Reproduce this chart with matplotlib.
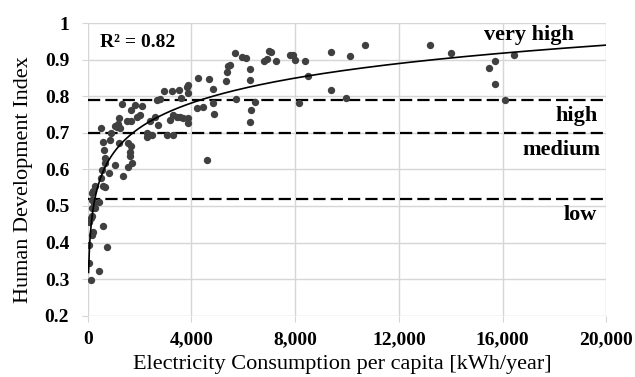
import numpy as np
import matplotlib
matplotlib.use("Agg")
import matplotlib.pyplot as plt

# electricity consumption per capita [kWh/year] and HDI
elec = [115, 447, 50, 62, 755, 154, 216, 601, 50, 127, 185, 281, 154, 243, 447,
        154, 154, 193, 281, 601, 667, 501, 540, 832, 667, 667, 628, 1052, 1349, 1565,
        1696, 1630, 1630, 1669, 1565, 1218, 859, 886, 501, 1052, 1141, 1218, 1245, 1310, 1503,
        1669, 1669, 1823, 1912, 2016, 2081, 2274, 2297, 2401, 2467, 2594, 2659, 2721, 2786, 2941,
        3045, 3172, 3237, 3299, 3299, 3430, 3530, 3557, 3584, 3684, 3815, 3877, 3877, 3877, 3877,
        4239, 4201, 4455, 4586, 4675, 4841, 4841, 4868, 5319, 5357, 5396, 5484, 5716, 5677, 5935,
        6101, 6255, 6255, 6282, 6255, 6448, 6795, 6899, 6999, 7053, 7257, 7797, 7924, 7989, 8155,
        8375, 8479, 9365, 9365, 9955, 10109, 10687, 13192, 13990, 15697, 15478, 15709, 16071, 16418,
        601, 1160]
hdi = [0.298, 0.321, 0.345, 0.392, 0.387, 0.421, 0.430, 0.444, 0.455, 0.467, 0.473, 0.494, 0.494, 0.508, 0.512,
       0.517, 0.535, 0.540, 0.555, 0.555, 0.551, 0.576, 0.599, 0.590, 0.618, 0.631, 0.653, 0.613, 0.583, 0.608,
       0.619, 0.636, 0.649, 0.663, 0.672, 0.672, 0.681, 0.701, 0.713, 0.720, 0.716, 0.741, 0.713, 0.780, 0.732,
       0.764, 0.732, 0.777, 0.745, 0.750, 0.775, 0.700, 0.690, 0.732, 0.695, 0.745, 0.791, 0.722, 0.793, 0.814,
       0.695, 0.736, 0.814, 0.695, 0.750, 0.745, 0.818, 0.745, 0.796, 0.741, 0.827, 0.832, 0.727, 0.809, 0.741,
       0.850, 0.768, 0.771, 0.627, 0.849, 0.820, 0.782, 0.752, 0.841, 0.866, 0.882, 0.887, 0.794, 0.919, 0.907,
       0.904, 0.875, 0.846, 0.764, 0.731, 0.786, 0.896, 0.902, 0.923, 0.921, 0.896, 0.914, 0.914, 0.901, 0.782,
       0.896, 0.857, 0.921, 0.818, 0.797, 0.910, 0.941, 0.940, 0.919, 0.896, 0.878, 0.835, 0.791, 0.913,
       0.674, 0.725]

# log trend line y = a*ln(x) + b (R^2 = 0.82)
trend_a = 0.0985
trend_b = -0.035
trend_start = 36

# HDI class boundaries
thresholds = [0.79, 0.70, 0.52]
class_names = ["very high", "high", "medium", "low"]
class_x = [17000, 19650, 18250, 19650]
class_y = [0.968, 0.747, 0.654, 0.476]
class_ha = ["center", "right", "center", "right"]

xticks = [0, 4000, 8000, 12000, 16000, 20000]
yticks = [0.2, 0.3, 0.4, 0.5, 0.6, 0.7, 0.8, 0.9, 1.0]
ytick_labels = ["0.2", "0.3", "0.4", "0.5", "0.6", "0.7", "0.8", "0.9", "1"]

plt.rcParams["font.family"] = ["Liberation Serif", "DejaVu Serif"]

fig = plt.figure(figsize=(6.35, 3.77), dpi=100)
ax = fig.add_axes([0.138, 0.163, 0.817, 0.775])

ax.scatter(elec, hdi, s=28, color="#404040", zorder=3, linewidths=0)

xs = np.linspace(trend_start, 20000, 800)
ax.plot(xs, trend_a * np.log(xs) + trend_b, color="black", lw=1.2, zorder=4)

for t in thresholds:
    ax.axhline(t, color="black", lw=1.6, dashes=(5.5, 2.3), zorder=2)

for name, tx, ty, ha in zip(class_names, class_x, class_y, class_ha):
    ax.text(tx, ty, name, ha=ha, va="center", fontsize=16, fontweight="bold")

ax.text(480, 0.947, "R² = 0.82", ha="left", va="center", fontsize=14, fontweight="bold")

ax.set_xlim(0, 20000)
ax.set_ylim(0.2, 1.0)
ax.set_xticks(xticks)
ax.set_xticklabels(["{:,}".format(v) for v in xticks])
ax.set_yticks(yticks)
ax.set_yticklabels(ytick_labels)
for lab in ax.get_xticklabels() + ax.get_yticklabels():
    lab.set_fontweight("bold")
    lab.set_fontsize(14)

ax.grid(True, color="#d6d6d6", lw=1, zorder=0)
ax.set_axisbelow(True)
for sp in ax.spines.values():
    sp.set_visible(False)
ax.tick_params(axis="y", length=4.3, color="#d6d6d6", pad=9)
ax.tick_params(axis="x", length=4.3, color="#d6d6d6", pad=7)

fig.text(342 / 635, 1 - 364 / 377, "Electricity Consumption per capita [kWh/year]",
         fontsize=16, ha="center", va="center")
fig.text(24 / 635, 1 - 180 / 377, "Human Development Index",
         fontsize=16, ha="center", va="center", rotation=90)

fig.savefig("out.png", dpi=100)
